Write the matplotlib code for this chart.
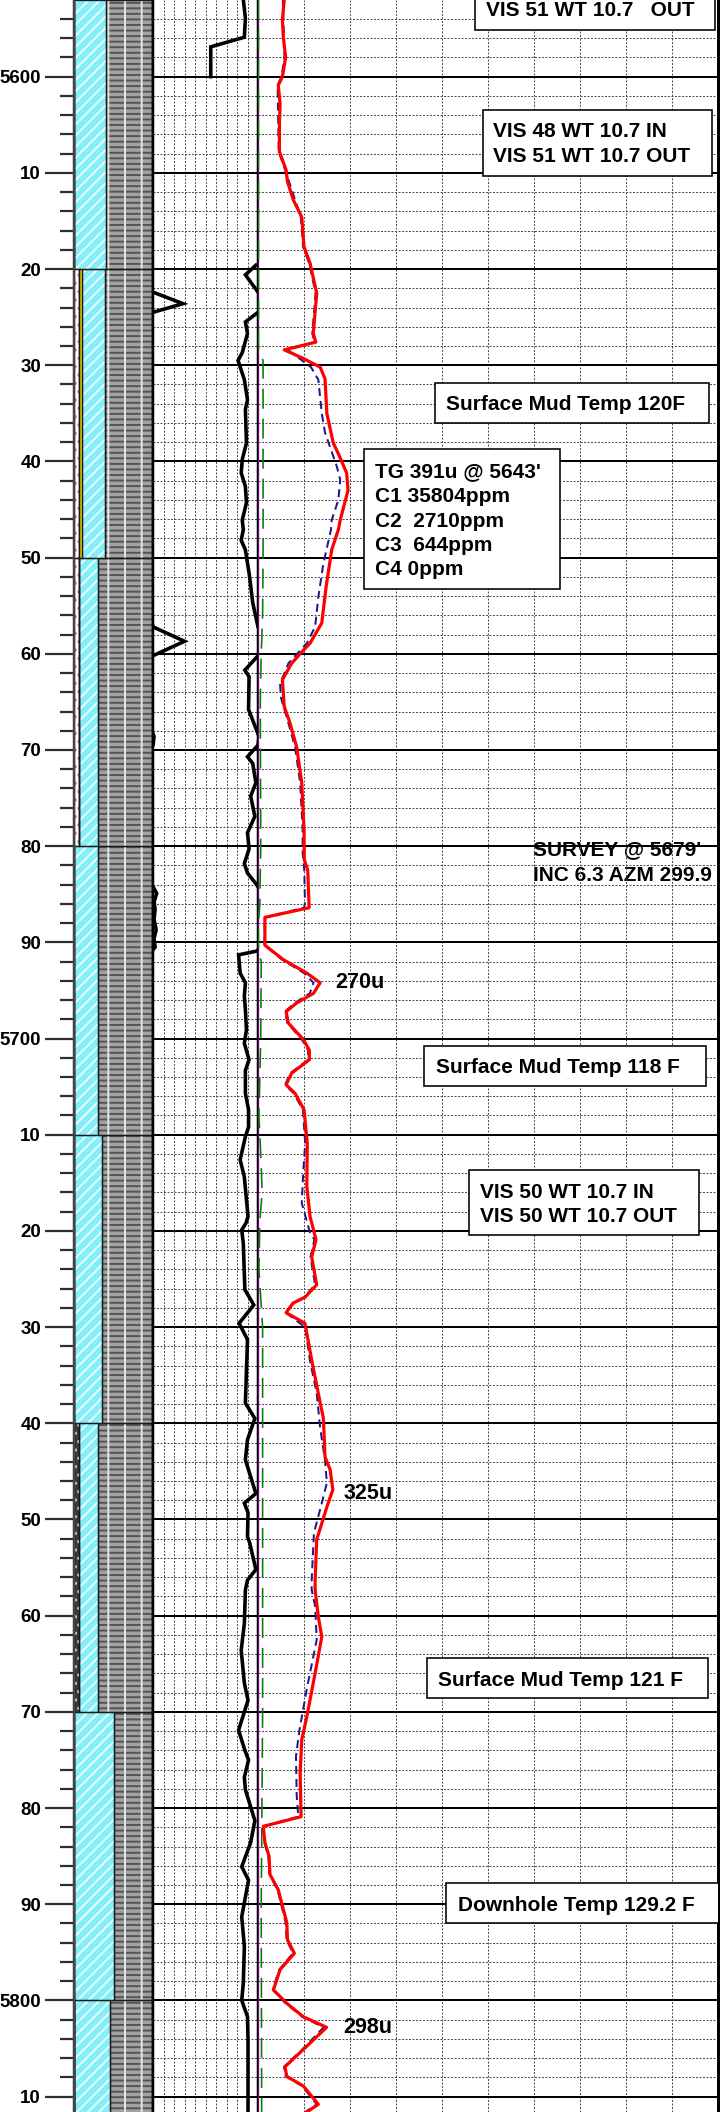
import numpy as np
import matplotlib
matplotlib.use("Agg")
import matplotlib.pyplot as plt
from matplotlib.ticker import MultipleLocator, FuncFormatter
from matplotlib.patches import Rectangle
import matplotlib.transforms as mtransforms

plt.rcParams['font.family'] = ['Liberation Sans', 'DejaVu Sans']
plt.rcParams['font.weight'] = 'bold'
plt.rcParams['lines.scale_dashes'] = False
plt.rcParams['hatch.linewidth'] = 1.4

W, H, DPI = 720, 2112, 100
PX = 72.0 / DPI          # points per pixel

DEPTH_TOP, DEPTH_BASE = 5592.03, 5811.6

# ---------------- lithology (percent of column) ----------------
lith_top = [5592, 5620, 5650, 5680, 5710, 5740, 5770, 5800]
lith_base = [5620, 5650, 5680, 5710, 5740, 5770, 5800, 5812]
anhydrite_pct = [0, 6, 6, 0, 0, 0, 0, 0]
tuff_pct = [0, 0, 0, 0, 0, 6, 0, 0]
sand_pct = [0, 4, 0, 0, 0, 0, 0, 0]
limestone_pct = [40, 29, 24, 31, 36, 24, 51, 46]
shale_pct = [60, 61, 70, 69, 64, 70, 49, 54]

# ---------------- rate of penetration (track divisions) ----------------
rop_depth = [5592.0, 5593.9, 5595.9, 5596.9, 5600.0, 5600.05,
             5619.55, 5619.6, 5620.6, 5622.4, 5623.6, 5624.5, 5625.5, 5626.7,
             5628.7, 5629.5, 5631.5, 5633.6, 5634.6, 5638.1, 5639.8, 5641.2,
             5642.6, 5644.3, 5646.1, 5647.1, 5648.2, 5649.2, 5651.6, 5654.7,
             5657.2, 5658.7, 5660.2, 5661.7, 5662.4, 5665.8, 5668.6, 5669.5,
             5670.7, 5671.4, 5673.4, 5674.8, 5676.9, 5678.6, 5680.3, 5681.8,
             5682.8, 5683.9, 5684.3, 5684.9, 5685.8, 5686.6, 5687.6, 5688.7,
             5689.6, 5690.5, 5690.9, 5691.3, 5693.2, 5694.2, 5695.6, 5697.0,
             5699.1, 5700.5, 5702.2, 5703.3, 5705.7, 5707.4, 5709.2, 5710.2,
             5712.6, 5714.4, 5718.5, 5719.2, 5719.9, 5721.3, 5726.1, 5727.7,
             5729.6, 5731.3, 5737.9, 5739.5, 5741.7, 5743.8, 5747.3, 5748.3,
             5749.3, 5751.8, 5752.4, 5755.2, 5756.3, 5757.3, 5760.8, 5763.6,
             5767.0, 5768.8, 5771.9, 5774.0, 5775.0, 5776.8, 5778.1, 5781.3,
             5783.6, 5786.1, 5787.5, 5791.3, 5794.4, 5798.2, 5800.0, 5801.7,
             5804.1, 5811.6]
rop = [8.6, 8.8, 8.7, 5.5, 5.5, np.nan,
       np.nan, 9.8, 8.8, 10.0, 12.85, 10.0, 8.8, 9.0,
       8.5, 8.1, 8.7, 9.0, 8.8, 8.9, 8.5, 8.4,
       8.8, 8.9, 8.5, 8.6, 8.4, 8.8, 9.15, 9.5,
       10.0, 13.0, 10.0, 8.75, 9.15, 9.1, 10.1, 10.0,
       9.0, 9.5, 9.8, 9.3, 9.7, 9.0, 9.15, 8.7,
       9.0, 9.8, 10.05, 10.35, 10.1, 10.2, 10.1, 10.3,
       10.1, 10.2, 9.9, 8.15, 8.3, 8.8, 8.7, 8.8,
       8.9, 8.7, 9.15, 8.8, 8.8, 9.1, 9.1, 8.8,
       8.3, 8.7, 9.05, 8.85, 8.45, 8.6, 8.75, 9.6,
       8.2, 9.0, 8.8, 9.7, 9.0, 8.8, 9.8, 8.7,
       9.05, 9.0, 9.2, 9.8, 9.0, 8.8, 8.7, 8.4,
       8.7, 9.05, 8.15, 8.75, 9.1, 8.7, 8.8, 9.7,
       9.3, 8.45, 9.1, 8.45, 8.7, 8.6, 8.45, 9.0,
       9.05, 9.05]

# ---------------- gas (units) ----------------
gas_depth = [5592.0, 5594.1, 5595.9, 5598.0, 5600.0, 5600.9, 5602.8, 5604.8,
             5607.8, 5609.7, 5610.9, 5612.8, 5614.6, 5617.7, 5619.4, 5622.5,
             5626.7, 5627.6, 5628.4, 5629.3, 5630.2, 5631.4, 5635.0, 5638.1,
             5639.2, 5641.2, 5643.0, 5646.1, 5647.1, 5649.2, 5653.0, 5656.8,
             5658.9, 5660.0, 5661.0, 5662.7, 5665.5, 5667.2, 5669.7, 5673.4,
             5678.3, 5681.4, 5682.5, 5686.4, 5687.4, 5690.3, 5691.8, 5693.2,
             5694.2, 5695.3, 5696.3, 5697.2, 5698.4, 5700.1, 5701.2, 5702.2,
             5703.6, 5704.8, 5705.7, 5707.4, 5710.9, 5715.4, 5718.5, 5720.9,
             5722.7, 5725.6, 5726.9, 5727.5, 5728.5, 5729.6, 5733.4, 5736.9,
             5739.5, 5743.5, 5744.8, 5746.9, 5748.7, 5752.1, 5756.3, 5757.3,
             5760.1, 5762.2, 5766.0, 5770.5, 5772.9, 5776.4, 5780.9, 5781.9,
             5783.6, 5785.0, 5786.9, 5788.5, 5791.9, 5793.7, 5795.1, 5796.8,
             5798.9, 5800.3, 5801.7, 5802.8, 5805.1, 5806.9, 5807.9, 5808.9,
             5810.8, 5811.6]
total_gas = [114, 106, 110, 120, 106, 88, 96, 93,
             93, 122, 128, 153, 190, 200, 226, 255,
             240, 251, 114, 197, 270, 291, 299, 327,
             349, 385, 391, 357, 349, 320, 296, 277,
             226, 183, 146, 106, 114, 139, 168, 190,
             200, 201, 216, 222, 30, 30, 110, 212,
             270, 241, 168, 122, 132, 197, 223, 223,
             146, 122, 161, 200, 214, 212, 226, 252,
             233, 255, 204, 153, 122, 204, 233, 262,
             284, 291, 313, 325, 299, 255, 248, 248,
             262, 277, 248, 212, 190, 183, 187, 23,
             30, 48, 52, 88, 125, 128, 158, 96,
             67, 125, 197, 298, 197, 117, 125, 197,
             262, 212]

c1_depth = [5592.0, 5598.0, 5600.0, 5600.9, 5607.8, 5609.7, 5614.6, 5617.7,
            5619.4, 5622.5, 5626.7, 5627.6, 5628.4, 5629.3, 5630.2, 5631.5,
            5635.0, 5637.0, 5640.5, 5641.9, 5644.0, 5646.1, 5647.1, 5650.6,
            5654.1, 5657.2, 5658.9, 5661.0, 5663.1, 5664.5, 5667.2, 5669.7,
            5673.4, 5678.3, 5680.7, 5682.5, 5685.9, 5686.4, 5687.4, 5690.3,
            5691.8, 5693.2, 5694.2, 5695.3, 5696.3, 5697.2, 5698.4, 5700.1,
            5701.2, 5702.2, 5703.6, 5704.8, 5705.7, 5707.4, 5710.9, 5713.7,
            5717.1, 5720.2, 5720.9, 5722.7, 5725.6, 5726.9, 5727.5, 5728.5,
            5730.0, 5733.4, 5736.9, 5740.5, 5743.8, 5746.2, 5748.3, 5751.4,
            5756.3, 5757.3, 5759.0, 5762.5, 5767.6, 5771.9, 5774.6, 5778.7,
            5780.9, 5781.9, 5783.6, 5785.0, 5786.9, 5788.5, 5791.9, 5793.7,
            5795.1, 5796.8, 5798.9, 5800.3, 5801.7, 5802.8, 5805.1, 5806.9,
            5807.9, 5808.9, 5810.8, 5811.6]
c1 = [108, 115, 102, 85, 90, 118, 186, 196,
      222, 250, 236, 246, 130, 180, 230, 262,
      277, 291, 342, 357, 349, 320, 317, 284,
      262, 248, 212, 132, 96, 99, 132, 161,
      183, 194, 194, 201, 204, 200, 30, 28,
      105, 200, 241, 225, 160, 117, 128, 190,
      218, 218, 140, 118, 155, 195, 205, 197,
      190, 226, 245, 228, 248, 200, 150, 120,
      205, 225, 255, 270, 291, 299, 277, 243,
      233, 233, 248, 255, 212, 180, 165, 168,
      175, 22, 28, 45, 50, 85, 120, 124,
      152, 92, 64, 120, 192, 285, 192, 113,
      120, 192, 255, 205]

c2_depth = [5592.0, 5628.5, 5629.5, 5650.0, 5656.0, 5660.0, 5665.0, 5680.0,
            5686.0, 5688.0, 5691.0, 5692.0, 5700.0, 5708.0, 5712.0, 5716.0,
            5719.0, 5724.0, 5730.0, 5770.0, 5790.0, 5811.6]
c2 = [2, 2, 22, 22, 20, 14, 10, 12,
      8, 2, 2, 14, 12, 4, 12, 18,
      8, 4, 20, 20, 14, 16]

c3_depth = [5592.0, 5811.6]
c3 = [2, 2]

# ---------------- figure and tracks ----------------
fig = plt.figure(figsize=(W / DPI, H / DPI), dpi=DPI)
fig.patch.set_facecolor('white')

ax_lith = fig.add_axes([74 / W, 0, 79 / W, 1])
ax_rop = fig.add_axes([153 / W, 0, 105 / W, 1], sharey=ax_lith)
ax_gas = fig.add_axes([258 / W, 0, 460.5 / W, 1], sharey=ax_lith)

ax_lith.set_ylim(DEPTH_BASE, DEPTH_TOP)
ax_lith.set_xlim(0, 100)
ax_rop.set_xlim(0, 10)
ax_gas.set_xlim(0, 2000)

# depth scale
ax_lith.yaxis.set_major_locator(MultipleLocator(10))
ax_lith.yaxis.set_minor_locator(MultipleLocator(2))


def depth_label(v, pos):
    v = int(round(v))
    return str(v) if v % 100 == 0 else str(v % 100)


ax_lith.yaxis.set_major_formatter(FuncFormatter(depth_label))
ax_lith.tick_params(axis='y', which='major', length=29 * PX, width=2.2 * PX,
                    color='#2e2e2e', pad=4 * PX, labelsize=13.5)
ax_lith.tick_params(axis='y', which='minor', length=14 * PX, width=2.2 * PX,
                    color='#2e2e2e')
ax_lith.set_xticks([])

# lithology column
centers = [(t + b) / 2 for t, b in zip(lith_top, lith_base)]
thick = [b - t for t, b in zip(lith_top, lith_base)]
components = [
    (anhydrite_pct, 'white', '#ff7070', '..'),
    (tuff_pct, '#3c3c3c', 'white', '..'),
    (sand_pct, '#ffee00', '#ffee00', None),
    (limestone_pct, '#84eef9', '#e8ffff', '///'),
    (shale_pct, '#a2a2a2', '#545454', '---'),
]
left = np.zeros(len(lith_top))
for pct, face, hcol, hatch in components:
    pct = np.asarray(pct, dtype=float)
    ax_lith.barh(centers, pct, left=left, height=thick, color=face,
                 edgecolor=hcol, hatch=hatch, linewidth=0, zorder=1)
    ax_lith.barh(centers, pct, left=left, height=thick, fill=False,
                 edgecolor='#1a1a1a', linewidth=1.3 * PX, zorder=2)
    left += pct
# light separators inside the shale pattern
ax_lith.barh(centers, shale_pct, left=left - np.asarray(shale_pct), height=thick,
             fill=False, edgecolor='#e6e6e6', hatch='|', linewidth=0, zorder=1.5)

for side in ('top', 'bottom'):
    for ax in (ax_lith, ax_rop, ax_gas):
        ax.spines[side].set_visible(False)
ax_lith.spines['left'].set_linewidth(2.5 * PX)
ax_lith.spines['left'].set_color('#444444')
ax_lith.spines['right'].set_linewidth(2.5 * PX)
ax_rop.spines['left'].set_linewidth(2.5 * PX)
ax_rop.spines['right'].set_linewidth(2.5 * PX)
ax_gas.spines['left'].set_visible(False)
ax_gas.spines['right'].set_linewidth(3 * PX)

# grids in the curve tracks
for ax, step in ((ax_rop, 1), (ax_gas, 200)):
    ax.set_axisbelow(True)
    ax.xaxis.set_major_locator(MultipleLocator(step))
    ax.grid(which='major', axis='y', color='black', lw=2 * PX, ls='-')
    ax.grid(which='minor', axis='y', color='#505050', lw=1 * PX,
            ls=(0, (2 * PX, 1.5 * PX)))
    ax.grid(which='major', axis='x', color='#505050', lw=1 * PX,
            ls=(0, (2 * PX, 1.5 * PX)))
    ax.tick_params(which='both', length=0, labelleft=False, labelbottom=False)

# ROP curve, with back-up wrap past the right edge
rop_arr = np.asarray(rop, dtype=float)
ax_rop.plot(rop_arr, rop_depth, color='black', lw=3.6 * PX, zorder=3,
            solid_joinstyle='miter')
ax_rop.plot(rop_arr - 10, rop_depth, color='black', lw=3.6 * PX, zorder=3,
            solid_joinstyle='miter')

# gas curves
ax_gas.plot(c3, c3_depth, color='#7a0080', lw=1.3 * PX, zorder=2.5)
ax_gas.plot(c2, c2_depth, color='#008000', lw=1.6 * PX, zorder=2.6,
            ls=(0, (20 * PX, 10 * PX)))
ax_gas.plot(c1, c1_depth, color='#1a1a8c', lw=2 * PX, zorder=2.7,
            ls=(0, (8 * PX, 5 * PX)))
ax_gas.plot(total_gas, gas_depth, color='#ff0000', lw=3.2 * PX, zorder=3)

# peak labels
for val, dep, dx, dy in ((270, 5694.2, 15, 0), (325, 5746.9, 11, -4),
                         (298, 5802.8, 17, 0)):
    ax_gas.annotate(f'{val}u', xy=(val, dep), xytext=(dx, dy),
                    textcoords='offset pixels', ha='left', va='center',
                    fontsize=15.5, fontweight='bold', zorder=5)

# remark boxes
tb = mtransforms.blended_transform_factory(ax_gas.transAxes, ax_gas.transData)
GX0, GW = 258.0, 460.5


def fx(xpix):
    return (xpix - GX0) / GW


def remark(x0, x1, d0, d1, lines, text_x, baselines, size=15):
    ax_gas.add_patch(Rectangle((fx(x0), d0), fx(x1) - fx(x0), d1 - d0,
                               transform=tb, facecolor='white', edgecolor='black',
                               lw=1.6 * PX, zorder=4))
    for s, b in zip(lines, baselines):
        ax_gas.text(fx(text_x), b, s, transform=tb, ha='left', va='baseline',
                    fontsize=size, fontweight='bold', zorder=5)


remark(475, 715, 5590.0, 5595.15, ['VIS 51 WT 10.7   OUT'], 486, [5593.7])
remark(482.7, 711.7, 5603.47, 5610.3,
       ['VIS 48 WT 10.7 IN', 'VIS 51 WT 10.7 OUT'], 493, [5606.24, 5608.9])
remark(435, 709, 5631.8, 5636.0, ['Surface Mud Temp 120F'], 446, [5634.65])
remark(364, 560, 5638.73, 5653.29,
       ["TG 391u @ 5643'", 'C1 35804ppm', 'C2  2710ppm', 'C3  644ppm', 'C4 0ppm'],
       375, [5641.64, 5644.18, 5646.78, 5649.27, 5651.8])
remark(424.3, 705.7, 5700.76, 5704.97, ['Surface Mud Temp 118 F'], 436, [5703.57])
remark(469.3, 699, 5713.65, 5720.46,
       ['VIS 50 WT 10.7 IN', 'VIS 50 WT 10.7 OUT'], 480, [5716.62, 5719.05])
remark(426.7, 707.7, 5764.38, 5768.6, ['Surface Mud Temp 121 F'], 438, [5767.34])
remark(446, 718.5, 5787.77, 5791.97, ['Downhole Temp 129.2 F'], 457.7, [5790.72])

# survey note sits beneath the depth grid
for s, b in (("SURVEY @ 5679'", 5680.9), ('INC 6.3 AZM 299.9', 5683.58)):
    ax_gas.text(fx(533), b, s, transform=tb, ha='left', va='baseline',
                fontsize=15, fontweight='bold', zorder=0.3)

fig.savefig('out.png', dpi=DPI, facecolor='white')
